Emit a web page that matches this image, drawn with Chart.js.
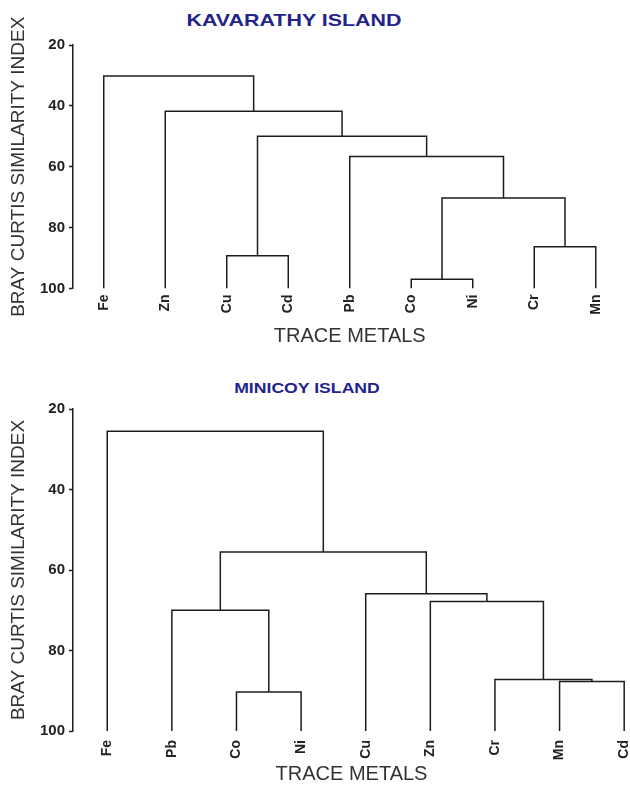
<!DOCTYPE html>
<html>
<head>
<meta charset="utf-8">
<title>Trace metal dendrograms</title>
<script src="https://cdn.jsdelivr.net/npm/chart.js@4.4.1/dist/chart.umd.min.js"></script>
<style>
    html, body { margin: 0; padding: 0; background: #fff; }
    body { width: 630px; height: 786px; position: relative; overflow: hidden; }
    .island {
        position: absolute;
        font-family: "Liberation Sans", Arial, sans-serif;
        font-weight: bold;
        color: #23238c;
        white-space: nowrap;
        transform: translateX(-50%) scaleX(1.26);
        line-height: 1;
    }
    #kavTitle { left: 294px; top: 12px; font-size: 17px; }
    #minTitle { left: 307px; top: 381px; font-size: 14px; }
    .box { position: absolute; left: 0; width: 630px; }
    #kavBox { top: 0; height: 350px; }
    #minBox { top: 370px; height: 416px; }
</style>
</head>
<body>

<div id="kavTitle" class="island">KAVARATHY ISLAND</div>
<div id="minTitle" class="island">MINICOY ISLAND</div>

<div id="kavBox" class="box"><canvas id="kavChart"></canvas></div>
<div id="minBox" class="box"><canvas id="minChart"></canvas></div>

<script>
/* ================= DATA ================= */

const similarityTicks = [20, 40, 60, 80, 100];

// Kavarathy: leaf order, then each merge joins two nodes (leaf index, or 9, 10, ... for earlier merges)
const kavLeaves = ["Fe", "Zn", "Cu", "Cd", "Pb", "Co", "Ni", "Cr", "Mn"];
const kavPairs  = [[5, 6], [2, 3], [7, 8], [9, 11], [4, 12], [10, 13], [1, 14], [0, 15]];
const kavLevels = [97, 89.2, 86.3, 70.3, 56.6, 50, 41.8, 30.2];

// Minicoy
const minLeaves = ["Fe", "Pb", "Co", "Ni", "Cu", "Zn", "Cr", "Mn", "Cd"];
const minPairs  = [[2, 3], [7, 8], [6, 10], [1, 9], [5, 11], [4, 13], [12, 14], [0, 15]];
const minLevels = [90.3, 87.7, 87.2, 70, 67.8, 65.9, 55.5, 25.5];

/* ================= DENDROGRAM LINKS ================= */

// every merge becomes one bracket: down from child a, across, down to child b
function buildLinks(leaves, pairs, levels) {
    const nodes = leaves.map((name, i) => ({ x: i + 1, y: 100 }));
    const links = [];

    pairs.forEach((pair, k) => {
        const a = nodes[pair[0]];
        const b = nodes[pair[1]];
        const h = levels[k];

        links.push({
            data: [
                { x: a.x, y: a.y },
                { x: a.x, y: h },
                { x: b.x, y: h },
                { x: b.x, y: b.y }
            ],
            borderColor: "#1c1c1c",
            borderWidth: 1.5,
            pointRadius: 0,
            tension: 0,
            fill: false
        });

        nodes.push({ x: (a.x + b.x) / 2, y: h });
    });

    return links;
}

/* ================= CHART ================= */

const FONT = "'Liberation Sans', Arial, sans-serif";

function renderDendrogram(canvasId, leaves, pairs, levels, box) {

    new Chart(document.getElementById(canvasId), {
        type: "line",
        data: { datasets: buildLinks(leaves, pairs, levels) },
        options: {
            responsive: true,
            maintainAspectRatio: false,
            animation: false,
            events: [],
            layout: {
                padding: { top: box.top, left: 0, right: box.right, bottom: 0 }
            },
            plugins: {
                legend: { display: false },
                tooltip: { enabled: false }
            },
            scales: {
                x: {
                    type: "linear",
                    min: box.xMin,
                    max: box.xMax,
                    afterBuildTicks: (axis) => {
                        axis.ticks = leaves.map((name, i) => ({ value: i + 1 }));
                    },
                    afterFit: (axis) => {
                        axis.height = box.xHeight;
                        axis.paddingLeft = 0;
                        axis.paddingRight = 0;
                    },
                    ticks: {
                        autoSkip: false,
                        minRotation: 90,
                        maxRotation: 90,
                        padding: box.labelGap,
                        color: "#222",
                        font: { family: FONT, size: 14, weight: "bold" },
                        callback: (value) => leaves[Math.round(value) - 1]
                    },
                    grid: { display: false, drawTicks: false },
                    border: { display: false },
                    title: {
                        display: true,
                        text: "TRACE METALS",
                        color: "#333",
                        font: { family: FONT, size: 20 },
                        padding: { top: 0, bottom: box.titleGap }
                    }
                },
                y: {
                    type: "linear",
                    reverse: true,
                    min: 20,
                    max: 100,
                    afterBuildTicks: (axis) => {
                        axis.ticks = similarityTicks.map(v => ({ value: v }));
                    },
                    afterFit: (axis) => {
                        axis.width = 73;
                    },
                    ticks: {
                        padding: 4,
                        color: "#222",
                        font: { family: FONT, size: 15, weight: "bold" }
                    },
                    grid: {
                        drawOnChartArea: false,
                        drawTicks: true,
                        tickLength: 4,
                        tickWidth: 1.5,
                        color: "#1c1c1c"
                    },
                    border: { display: true, color: "#1c1c1c", width: 1.5 },
                    title: {
                        display: true,
                        text: "BRAY CURTIS SIMILARITY INDEX",
                        color: "#333",
                        font: { family: FONT, size: 19 },
                        padding: { top: 7, bottom: 0 }
                    }
                }
            }
        }
    });
}

/* ================= INIT ================= */

renderDendrogram("kavChart", kavLeaves, kavPairs, kavLevels, {
    top: 45, right: 3.5, xMin: 0.5, xMax: 9.5, xHeight: 61.5, labelGap: 6, titleGap: 2
});

renderDendrogram("minChart", minLeaves, minPairs, minLevels, {
    top: 39, right: 0, xMin: 0.47, xMax: 9.09, xHeight: 55, labelGap: 9, titleGap: 0
});
</script>
</body>
</html>
